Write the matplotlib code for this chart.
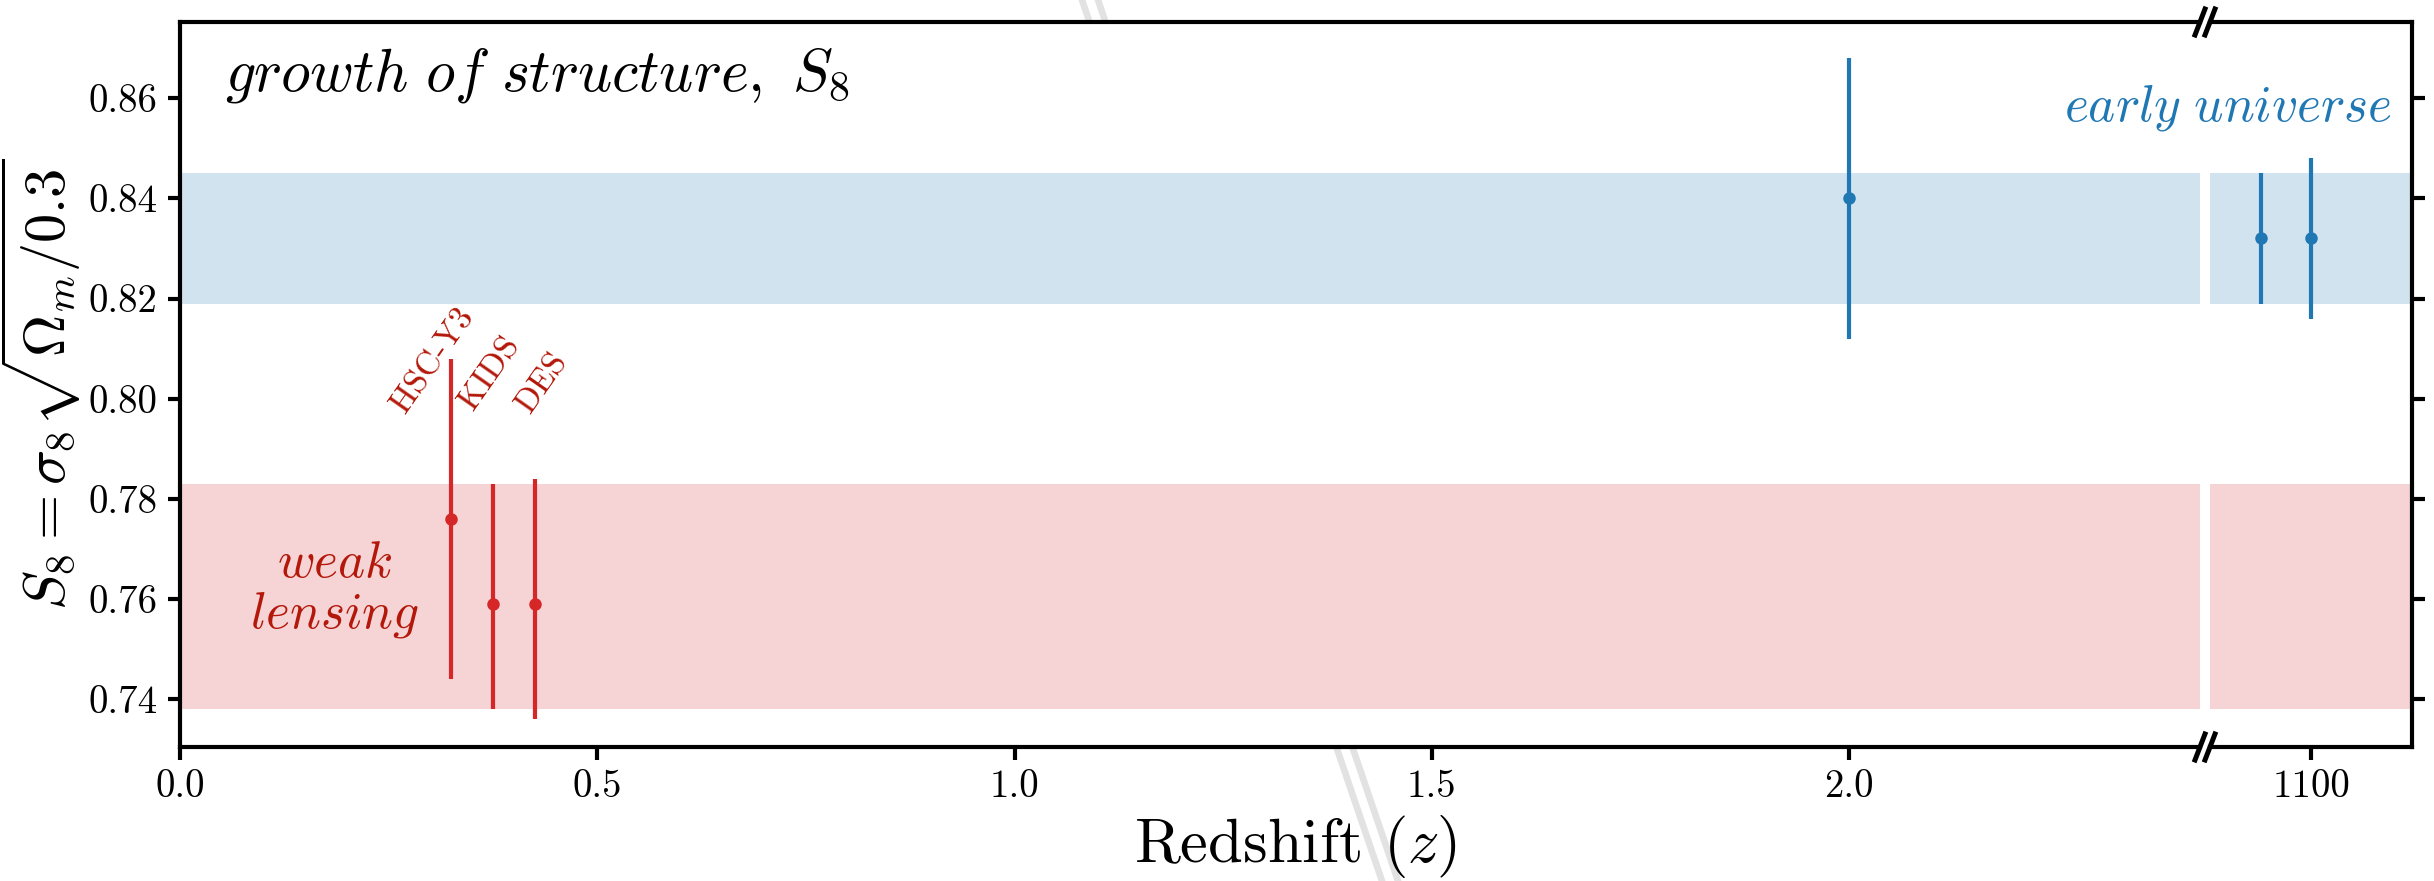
import numpy as np
import matplotlib
matplotlib.use('Agg')
import matplotlib.pyplot as plt
from matplotlib.lines import Line2D

plt.rcParams['font.family'] = 'serif'
plt.rcParams['font.serif'] = ['cmr10']
plt.rcParams['mathtext.fontset'] = 'cm'
plt.rcParams['axes.unicode_minus'] = False
plt.rcParams['axes.formatter.use_mathtext'] = True

# weak lensing measurements
wl_names = ['HSC-Y3', 'KIDS', 'DES']
wl_z = [0.325, 0.375, 0.425]
wl_s8 = [0.776, 0.759, 0.759]
wl_lo = [0.032, 0.021, 0.023]
wl_hi = [0.032, 0.024, 0.025]

# CMB lensing point at intermediate z
lens_z = [2.0]
lens_s8 = [0.840]
lens_err = [0.028]

# early universe points (right panel)
cmb_z = [1090, 1100]
cmb_s8 = [0.832, 0.832]
cmb_err = [0.013, 0.016]

# shaded bands
early_band = [0.819, 0.845]
wl_band = [0.738, 0.783]

# label positions for the weak lensing names
wl_label_z = [0.303, 0.371, 0.435]
wl_label_y = [0.8076, 0.8051, 0.8033]

yticks = [0.74, 0.76, 0.78, 0.80, 0.82, 0.84, 0.86]
xticks_left = [0.0, 0.5, 1.0, 1.5, 2.0]
xticks_right = [1100]

W, H = 2434, 881
fig = plt.figure(figsize=(W / 200, H / 200), dpi=200)

def px(x, y):  # pixel (from top-left) -> figure fraction
    return x / W, 1 - y / H

left_px, right_px, gap_l, gap_r = 180, 2412, 2200, 2210
top_px, bot_px = 22, 747
ax1 = fig.add_axes([left_px / W, 1 - bot_px / H, (gap_l - left_px) / W, (bot_px - top_px) / H])
ax2 = fig.add_axes([gap_r / W, 1 - bot_px / H, (right_px - gap_r) / W, (bot_px - top_px) / H])

red = '#d62728'
blue = '#1f77b4'
dark_red = '#b3180a'

for ax in (ax1, ax2):
    ax.axhspan(early_band[0], early_band[1], color=blue, alpha=0.2, lw=0)
    ax.axhspan(wl_band[0], wl_band[1], color=red, alpha=0.2, lw=0)
    ax.set_ylim(0.7305, 0.8752)
    ax.set_yticks(yticks)
    for s in ax.spines.values():
        s.set_linewidth(1.5)
    ax.tick_params(width=1.5, length=4.5, labelsize=14)

ax1.errorbar(wl_z, wl_s8, yerr=[wl_lo, wl_hi], fmt='o', color=red, ms=3.5, elinewidth=1.5, capsize=0)
ax1.errorbar(lens_z, lens_s8, yerr=lens_err, fmt='o', color=blue, ms=3.5, elinewidth=1.5, capsize=0)
ax2.errorbar(cmb_z, cmb_s8, yerr=cmb_err, fmt='o', color=blue, ms=3.5, elinewidth=1.5, capsize=0)

ax1.set_xlim(0, 2.4206)
ax1.set_xticks(xticks_left)
ax1.set_xticklabels(['%.1f' % t for t in xticks_left])
ax1.set_yticklabels(['%.2f' % t for t in yticks])
ax1.spines['right'].set_visible(False)

ax2.set_xlim(1080, 1120)
ax2.set_xticks(xticks_right)
ax2.set_xticklabels([str(t) for t in xticks_right])
ax2.spines['left'].set_visible(False)
ax2.yaxis.tick_right()
ax2.tick_params(axis='y', labelright=False)

ax1.set_ylabel(r'$S_8 = \sigma_8\sqrt{\Omega_m/0.3}$', fontsize=21)
ax1.yaxis.set_label_coords(-0.048, 0.5)
fig.text(1295 / W, 1 - 846 / H, r'Redshift $(z)$', fontsize=22.5, ha='center', va='center')

ax1.text(0.054, 0.8645, r'$\mathit{growth\ of\ structure,}\ S_8$', fontsize=21.5, ha='left', va='center')
ax2.text(1116, 0.858, r'$\mathit{early\ universe}$', fontsize=18.5, color=blue, ha='right', va='center', clip_on=False)
ax1.text(0.185, 0.7617, r'$\mathit{weak}$' + '\n' + r'$\mathit{lensing}$', fontsize=18.5, color=dark_red,
         ha='center', va='center', linespacing=1.1)

for name, lz, ly in zip(wl_names, wl_label_z, wl_label_y):
    ax1.text(lz, ly, name, fontsize=12, color=dark_red, rotation=55, ha='center', va='center', rotation_mode='anchor')

# break marks
for yb in (top_px, bot_px):
    for xb in (2200, 2210):
        x0, y0 = px(xb - 5, yb + 13)
        x1, y1 = px(xb + 5, yb - 13)
        fig.add_artist(Line2D([x0, x1], [y0, y1], color='k', lw=1.8, zorder=5))

# faint leftover guide lines behind the axes
for dx in (0, 16):
    x0, y0 = px(1082 + dx, 0)
    x1, y1 = px(1382 + dx, H)
    fig.add_artist(Line2D([x0, x1], [y0, y1], color='#e2e2e2', lw=2.4, zorder=-1))

fig.savefig('out.png', dpi=200)
